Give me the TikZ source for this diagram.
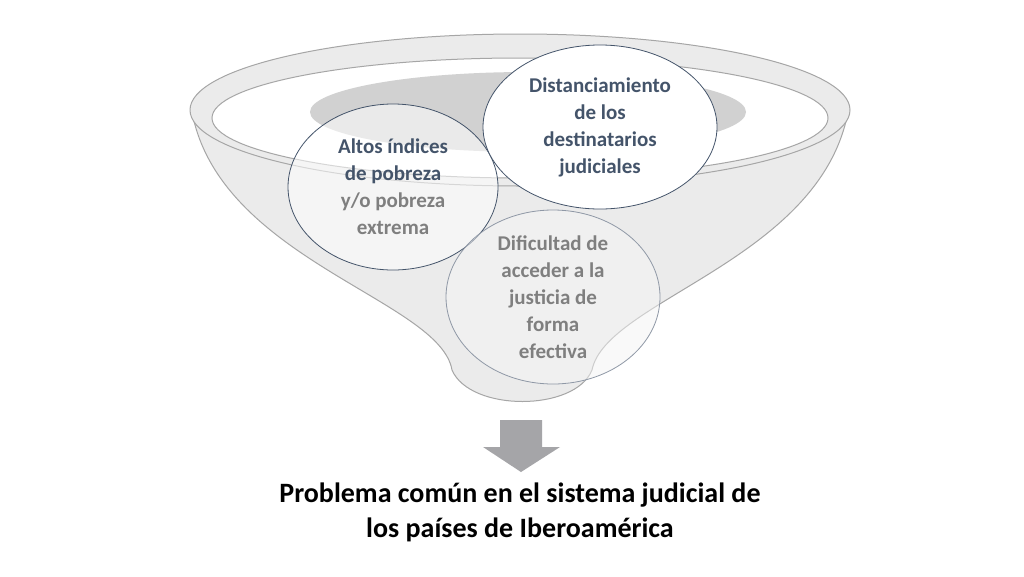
\documentclass[tikz,border=0pt]{standalone}
\usepackage{fontspec}
\setmainfont{Carlito}
\definecolor{slate}{HTML}{44546A}
\definecolor{midgray}{HTML}{7F7F7F}
\definecolor{arrowgray}{HTML}{A5A5A8}
\begin{document}
\begin{tikzpicture}[x=1pt,y=-1pt,
  funnel/.style={fill=black!8,draw=black!35,line width=1pt},
  bubble/.style={draw=slate,line width=0.8pt,align=center,font=\bfseries\fontsize{21}{27}\selectfont,text=slate}]
\useasboundingbox (0,0) rectangle (1024,576);
\fill[white] (0,0) rectangle (1024,576);
\path[funnel] (192,112) .. controls (220,260) and (440,300) .. (452,370)
  .. controls (470,412) and (575,412) .. (592,370)
  .. controls (606,300) and (820,260) .. (848,112) -- cycle;
\path[funnel] (520,110) ellipse [x radius=330, y radius=76];
\path[fill=white,draw=black!35,line width=1pt] (520,118) ellipse [x radius=308, y radius=60];
\fill[black!18] (528,112) ellipse [x radius=218, y radius=40];
\path[bubble,fill=white,fill opacity=0.55] (393,187) ellipse [x radius=105, y radius=83];
\path[bubble,draw=slate!60,fill=black!4,fill opacity=0.5] (553,297) ellipse [x radius=107, y radius=87];
\path[bubble,fill=white] (600,127) ellipse [x radius=117, y radius=82];
\node[bubble,draw=none] (t1) at (393,187) {Altos índices\\de pobreza\\\textcolor{midgray}{y/o pobreza}\\\textcolor{midgray}{extrema}};
\node[bubble,draw=none] (t2) at (600,127) {Distanciamiento\\de los\\destinatarios\\judiciales};
\node[bubble,draw=none,text=midgray] (t3) at (553,297) {Dificultad de\\acceder a la\\justicia de\\forma\\efectiva};
\fill[arrowgray] (500,420) -- (542,420) -- (542,447) -- (560,447) -- (521,472) -- (483,447) -- (500,447) -- cycle;
\node[font=\bfseries\fontsize{28}{35}\selectfont,align=center] (b) at (520,512) {Problema común en el sistema judicial de\\los países de Iberoamérica};
\end{tikzpicture}
\end{document}
